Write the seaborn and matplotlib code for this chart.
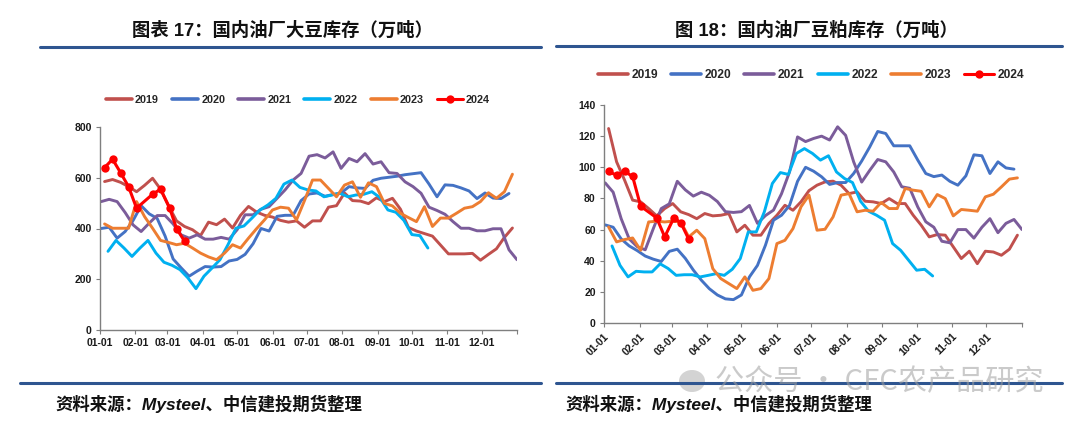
import numpy as np
import pandas as pd
import matplotlib
matplotlib.use("Agg")
import matplotlib.pyplot as plt
from matplotlib.lines import Line2D
import seaborn as sns

sns.set_theme(style="white")
plt.rcParams['font.family'] = ['Liberation Sans', 'Noto Sans CJK SC', 'DejaVu Sans']
plt.rcParams['axes.unicode_minus'] = False

# 月份刻度
month_days = [0, 31, 59, 90, 120, 151, 181, 212, 243, 273, 304, 334, 365]
month_labels = ['01-01', '02-01', '03-01', '04-01', '05-01', '06-01', '07-01',
                '08-01', '09-01', '10-01', '11-01', '12-01', '']

years = ['2019', '2020', '2021', '2022', '2023', '2024']
colors = ['#C0504D', '#4472C4', '#7B5C9A', '#00B0F0', '#ED7D31', '#FF0000']
# 每个年份第一周数据的日期（一年中的第几天）
start_day = {'2019': 4, '2020': 1, '2021': 1, '2022': 7, '2023': 4}
days_2024 = [4, 11, 18, 25, 32, 46, 53, 61, 67, 74]

# 图表17 大豆库存（万吨）
bean_2019 = [585, 593, 582, 565, 545, 570, 598, 555, 490, 430, 408, 395, 372, 425, 415, 437, 402, 452,
             487, 465, 452, 445, 432, 425, 430, 405, 430, 430, 484, 490, 540, 510, 508, 498, 521, 506,
             519, 476, 404, 390, 380, 370, 335, 300, 300, 300, 302, 275, 298, 320, 365, 402]
bean_2020 = [400, 405, 362, 388, 432, 490, 458, 440, 370, 280, 245, 212, 232, 250, 248, 250, 272, 278,
             298, 340, 400, 390, 448, 452, 452, 510, 536, 540, 527, 534, 540, 565, 560, 558, 590, 598,
             602, 606, 612, 616, 620, 575, 525, 572, 570, 560, 548, 518, 540, 520, 518, 538]
bean_2021 = [506, 515, 506, 463, 414, 388, 421, 451, 451, 418, 375, 362, 375, 358, 358, 365, 358, 395,
             454, 454, 476, 486, 519, 552, 591, 617, 685, 691, 678, 702, 637, 676, 663, 695, 654, 663,
             620, 617, 584, 565, 539, 484, 471, 456, 427, 401, 401, 391, 391, 399, 399, 316, 277]
bean_2022 = [310, 353, 323, 290, 323, 353, 303, 267, 255, 238, 205, 163, 212, 244, 277, 336, 401, 410,
             441, 473, 493, 519, 575, 591, 562, 552, 548, 525, 532, 539, 525, 532, 535, 545, 522, 473,
             464, 432, 376, 372, 323]
bean_2023 = [418, 401, 401, 401, 506, 447, 401, 353, 345, 336, 342, 323, 303, 288, 277, 303, 336, 323,
             362, 399, 434, 473, 484, 480, 434, 510, 591, 591, 558, 525, 571, 584, 523, 580, 565, 499,
             489, 460, 443, 427, 486, 408, 441, 441, 460, 480, 486, 506, 541, 519, 545, 614]
bean_2024 = [640, 673, 620, 565, 480, 535, 555, 480, 400, 350]

# 图18 豆粕库存（万吨）
meal_2019 = [124.9, 103.5, 91.7, 78.9, 77.8, 73.5, 68.8, 73.5, 76.7, 71.4, 69.6, 67, 70.3, 68.8, 69.2,
             70.3, 58.5, 62.8, 56.4, 56.4, 63.9, 69.2, 75.6, 72.4, 77.8, 85, 88.5, 90.6, 91.1, 88.5,
             83.1, 84.2, 78.2, 77.8, 76.7, 79.9, 76.7, 76.7, 69.2, 62.8, 55.3, 56.8, 56.4, 48.9, 41.4,
             46.1, 38.1, 46.1, 45.6, 43.5, 47.4, 56.4]
meal_2020 = [63, 61.5, 54, 49.5, 46.5, 43, 41, 39.5, 46, 47.4, 41.5, 34, 27.5, 22, 18, 15.5, 15, 18,
             29.6, 37, 50, 66, 69.2, 75.5, 91, 100, 97.5, 93.9, 89, 90.2, 90.2, 96, 104, 113, 123, 121.7,
             113.8, 113.8, 113.8, 104.6, 96, 94, 95, 91, 88.5, 94.5, 108, 107.4, 96, 103.5, 99.6, 98.8]
meal_2021 = [90, 84, 67, 54, 49, 47, 60.5, 73.5, 76.5, 91, 85.5, 81.5, 84, 82, 78, 71.5, 71, 71.5,
             75.5, 64, 69, 72.5, 83, 97, 119.5, 116.5, 118.5, 120, 117.5, 126, 120.5, 103.5, 90.5, 98,
             105, 103.5, 97, 87.5, 86.5, 74.5, 65, 61.5, 52.5, 51.5, 60, 60, 54.5, 61.5, 67, 58, 64,
             66.5, 60]
meal_2022 = [49.5, 37, 29.6, 33.2, 32.8, 32.8, 38, 35, 30.6, 31, 31, 29.6, 30.6, 31.7, 30.6, 34.5, 41.4,
             58.5, 58.5, 71.4, 89.6, 96.6, 95.4, 108.9, 112, 108.9, 104.6, 107.4, 97, 92.8, 90.2, 78.2,
             71.8, 69.2, 66, 51, 46.7, 40.3, 33.9, 34.5, 30.2]
meal_2023 = [61.7, 52.1, 53.6, 54.6, 46.7, 64.9, 65.4, 64.9, 65.4, 64.9, 55.3, 59.6, 54.2, 34.9, 28.5,
             25.3, 22.1, 29.6, 21, 22.1, 28.5, 51, 53.1, 60.6, 74.6, 82.1, 59.6, 60.2, 68.1, 82.1, 83.1,
             71.4, 72.4, 71.8, 77.4, 73.5, 73.5, 86.4, 85.3, 84.6, 74.6, 82.5, 79.9, 68.8, 72.9, 72.4,
             71.8, 81, 82.7, 87.4, 92.4, 93.2]
meal_2024 = [97.3, 94.9, 97.3, 94.1, 75, 67.5, 55.3, 67.5, 64.5, 53.8]

bean = dict(zip(years, [bean_2019, bean_2020, bean_2021, bean_2022, bean_2023, bean_2024]))
meal = dict(zip(years, [meal_2019, meal_2020, meal_2021, meal_2022, meal_2023, meal_2024]))

W, H = 1080, 428
fig = plt.figure(figsize=(W / 100, H / 100), dpi=100)
fig.patch.set_facecolor('white')


def box(x0, y0, x1, y1):
    # 像素坐标 -> figure 比例
    return [x0 / W, 1 - y1 / H, (x1 - x0) / W, (y1 - y0) / H]


def draw_panel(ax, series, ymax, ystep, rotate):
    for yr, c in zip(years, colors):
        vals = series[yr]
        if yr == '2024':
            x = days_2024
        else:
            x = start_day[yr] + 7 * np.arange(len(vals))
        df = pd.DataFrame({'day': x, 'val': vals})
        if yr == '2024':
            sns.lineplot(data=df, x='day', y='val', ax=ax, color=c, lw=2.2, marker='o',
                         markersize=6, markeredgewidth=0, zorder=5)
        else:
            sns.lineplot(data=df, x='day', y='val', ax=ax, color=c, lw=2.1)
    ax.set_xlim(0, 365)
    ax.set_ylim(0, ymax)
    ax.set_xticks(month_days)
    ax.set_xticklabels(month_labels)
    ax.set_yticks(np.arange(0, ymax + 1, ystep))
    ax.set_xlabel('')
    ax.set_ylabel('')
    for s in ['top', 'right']:
        ax.spines[s].set_visible(False)
    for s in ['left', 'bottom']:
        ax.spines[s].set_color('#7F7F7F')
        ax.spines[s].set_linewidth(1.0)
    ax.tick_params(axis='both', which='major', direction='out', length=3, width=0.8,
                   color='#7F7F7F', labelsize=7.5, pad=3)
    ax.tick_params(axis='x', bottom=True)
    ax.tick_params(axis='y', left=True)
    for t in ax.get_xticklabels() + ax.get_yticklabels():
        t.set_fontweight('bold')
        t.set_color('#1A1A1A')
    if rotate:
        for t in ax.get_xticklabels():
            t.set_rotation(45)
            t.set_ha('right')
            t.set_rotation_mode('anchor')


ax1 = fig.add_axes(box(100, 127, 517, 330))
draw_panel(ax1, bean, 800, 200, False)
ax2 = fig.add_axes(box(604, 105, 1022, 323))
draw_panel(ax2, meal, 140, 20, True)

handles = []
for yr, c in zip(years, colors):
    if yr == '2024':
        handles.append(Line2D([], [], color=c, lw=2.2, marker='o', markersize=6, markeredgewidth=0))
    else:
        handles.append(Line2D([], [], color=c, lw=2.6))

fig.legend(handles, years, loc='center', bbox_to_anchor=(298 / W, 1 - 100 / H), ncol=6,
           frameon=False, handlelength=2.4, handletextpad=0.3, columnspacing=1.2,
           prop={'weight': 'bold', 'size': 7.8})
fig.legend(handles, years, loc='center', bbox_to_anchor=(811 / W, 1 - 75 / H), ncol=6,
           frameon=False, handlelength=2.5, handletextpad=0.3, columnspacing=1.1,
           prop={'weight': 'bold', 'size': 8.6})

# 标题与分隔线
fig.text(282 / W, 1 - 31 / H, '图表 17：国内油厂大豆库存（万吨）', ha='center', va='center',
         fontsize=13.2, fontweight='bold', color='#111111')
fig.text(816 / W, 1 - 31 / H, '图 18：国内油厂豆粕库存（万吨）', ha='center', va='center',
         fontsize=13.2, fontweight='bold', color='#111111')

line_c = '#2E5590'
for x0, x1, y in [(40, 541, 47), (556, 1062, 46), (20, 541, 383), (556, 1062, 383)]:
    fig.add_artist(Line2D([x0 / W, x1 / W], [1 - y / H, 1 - y / H], color=line_c, lw=2.2))

fig.text(55 / W, 1 - 404 / H, '资料来源：Mysteel、中信建投期货整理', ha='left', va='center',
         fontsize=12.5, fontweight='bold', style='italic', color='#111111')
fig.text(565 / W, 1 - 404 / H, '资料来源：Mysteel、中信建投期货整理', ha='left', va='center',
         fontsize=12.5, fontweight='bold', style='italic', color='#111111')

# 水印
fig.text(715 / W, 1 - 382 / H, '公众号 · CFC农产品研究', ha='left', va='center',
         fontsize=21, color='#A0A0A0', alpha=0.55,
         family=['Noto Sans CJK SC', 'DejaVu Sans'])
fig.add_artist(matplotlib.patches.Ellipse((692 / W, 1 - 381 / H), 26 / W, 22 / H,
                                          color='#B0B0B0', alpha=0.55, lw=0))

fig.savefig('out.png', dpi=100, facecolor='white')
